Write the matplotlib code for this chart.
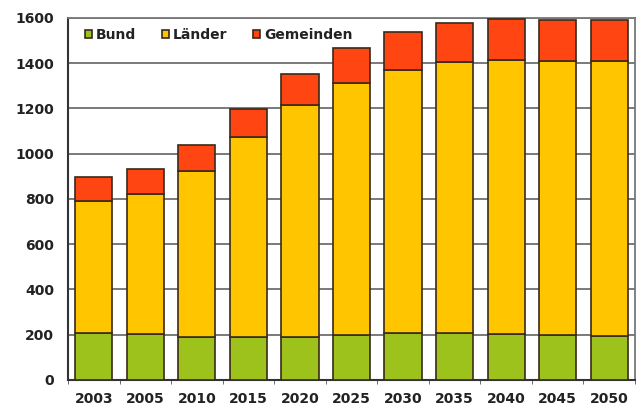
import matplotlib
matplotlib.use('Agg')
from matplotlib import pyplot as plt
import numpy as np

years = ['2003', '2005', '2010', '2015', '2020', '2025', '2030', '2035', '2040', '2045', '2050']
bund = [209, 202, 192, 189, 192, 199, 206, 206, 202, 198, 195]
laender_top = [789, 824, 925, 1072, 1214, 1313, 1372, 1404, 1413, 1408, 1411]
total = [897, 932, 1040, 1199, 1353, 1467, 1537, 1578, 1597, 1590, 1590]

bund = np.array(bund)
laender = np.array(laender_top) - bund
gemeinden = np.array(total) - np.array(laender_top)

plt.rcParams['font.family'] = ['DejaVu Sans']
plt.rcParams['font.weight'] = 'bold'

fig = plt.figure(figsize=(6.42, 4.09), dpi=100)
ax = fig.add_axes([0.106, 0.071, 0.883, 0.885])

x = np.arange(len(years))
w = 0.72
ec = '#3a2a1a'
ax.bar(x, bund, w, color='#9dc21c', edgecolor=ec, linewidth=1.2, label='Bund', zorder=3)
ax.bar(x, laender, w, bottom=bund, color='#ffc600', edgecolor=ec, linewidth=1.2, label='Länder', zorder=3)
ax.bar(x, gemeinden, w, bottom=bund + laender, color='#ff4612', edgecolor=ec, linewidth=1.2,
       label='Gemeinden', zorder=3)

ax.set_xlim(-0.5, len(years) - 0.5)
ax.set_ylim(0, 1600)
ax.set_yticks(range(0, 1601, 200))
ax.set_xticks(x)
ax.set_xticklabels(years)
ax.set_xticks(np.arange(-0.5, len(years), 1), minor=True)
ax.tick_params(axis='x', which='major', length=0, pad=9, labelsize=10, labelcolor='#222222')
ax.tick_params(axis='x', which='minor', length=3, color='#555555', direction='out')
ax.tick_params(axis='y', length=0, pad=10, labelsize=10, labelcolor='#222222')

ax.grid(axis='y', color='#707070', linewidth=1.3, zorder=0)
ax.set_axisbelow(True)
for s in ['left', 'bottom']:
    ax.spines[s].set_color('#333333')
    ax.spines[s].set_linewidth(1.5)
for s in ['top', 'right']:
    ax.spines[s].set_color('#777777')
    ax.spines[s].set_linewidth(1.3)

leg = ax.legend(loc='upper left', ncol=3, frameon=False, fontsize=10,
                handlelength=0.5, handleheight=0.5, handletextpad=0.3,
                columnspacing=1.85, bbox_to_anchor=(0.012, 1.0), borderaxespad=0.3,
                labelcolor='#222222')

fig.savefig('out.png', dpi=100)
